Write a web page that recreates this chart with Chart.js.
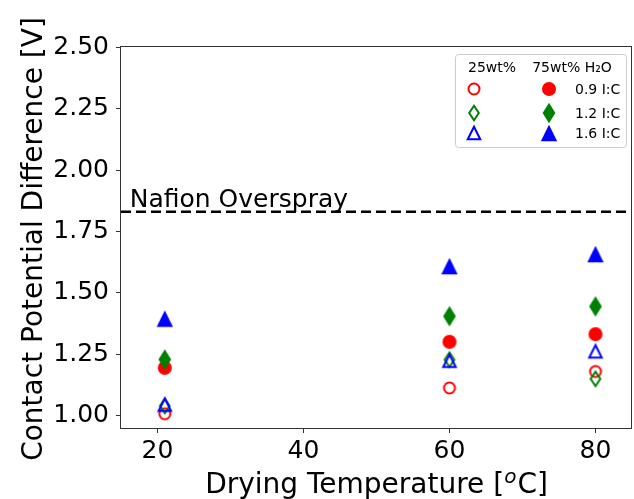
<!DOCTYPE html>
<html>
<head>
<meta charset="utf-8">
<script src="https://cdn.jsdelivr.net/npm/chart.js@4.4.1/dist/chart.umd.min.js"></script>
<style>
  html, body { margin: 0; padding: 0; background: #fff; }
  canvas { display: block; }
</style>
</head>
<body>
<canvas id="chart" width="634" height="499"></canvas>
<script>
// --- data ---
const temps = [21, 60, 80];

const open09 = [1.008, 1.113, 1.180];   // 25wt%, 0.9 I:C
const fill09 = [1.195, 1.301, 1.332];   // 75wt% H2O, 0.9 I:C
const open12 = [1.040, 1.228, 1.150];
const fill12 = [1.229, 1.405, 1.445];
const open16 = [1.045, 1.224, 1.262];
const fill16 = [1.395, 1.609, 1.658];

const oversprayLevel = 1.83;
const oversprayLabel = 'Nafion Overspray';
const oversprayLabelAt = [16.2, 1.851];

const xTicks = [20, 40, 60, 80];
const yTicks = [1.00, 1.25, 1.50, 1.75, 2.00, 2.25, 2.50];
const xRange = [15, 85];
const yRange = [0.95, 2.505];

const groupNames = ['25wt%', '75wt% H\u2082O'];
const ratioNames = ['0.9 I:C', '1.2 I:C', '1.6 I:C'];

const RED = '#ff0000', GREEN = '#008000', BLUE = '#0000ff';
const FONT = '"DejaVu Sans", sans-serif';

// --- matplotlib-like markers drawn on small canvases ---
function marker(shape, color, filled) {
    const c = document.createElement('canvas');
    c.width = 26; c.height = 26;
    const g = c.getContext('2d');
    g.translate(13, 13);
    g.beginPath();
    if (shape === 'circle') {
        g.arc(0, 0, filled ? 7 : 5.5, 0, Math.PI * 2);
    } else if (shape === 'diamond') {
        const h = filled ? 10.2 : 7.2, w = filled ? 6.4 : 4.8;
        g.moveTo(0, -h); g.lineTo(w, 0); g.lineTo(0, h); g.lineTo(-w, 0);
        g.closePath();
    } else {
        const s = filled ? 8.2 : 6.25;
        g.moveTo(0, -s); g.lineTo(s, s); g.lineTo(-s, s);
        g.closePath();
    }
    if (filled) {
        g.fillStyle = color;
        g.fill();
    } else {
        g.strokeStyle = color;
        g.lineWidth = 2;
        g.lineJoin = 'miter';
        g.stroke();
    }
    return c;
}

const markers = {
    open: [marker('circle', RED, false), marker('diamond', GREEN, false), marker('triangle', BLUE, false)],
    fill: [marker('circle', RED, true), marker('diamond', GREEN, true), marker('triangle', BLUE, true)]
};

function pts(ys) {
    return ys.map((y, i) => ({ x: temps[i], y: y }));
}

function pointSet(label, ys, style) {
    return {
        type: 'scatter',
        label: label,
        data: pts(ys),
        pointStyle: style,
        pointRadius: 8,
        showLine: false
    };
}

// first dataset is painted last (on top) in Chart.js
const datasets = [
    pointSet('75wt% 1.6', fill16, markers.fill[2]),
    pointSet('25wt% 1.6', open16, markers.open[2]),
    pointSet('75wt% 1.2', fill12, markers.fill[1]),
    pointSet('25wt% 1.2', open12, markers.open[1]),
    pointSet('75wt% 0.9', fill09, markers.fill[0]),
    pointSet('25wt% 0.9', open09, markers.open[0]),
    {
        type: 'line',
        label: oversprayLabel,
        data: xRange.map(x => ({ x: x, y: oversprayLevel })),
        borderColor: '#000',
        borderWidth: 2.5,
        borderDash: [10, 5],
        pointRadius: 0,
        fill: false
    }
];

// --- frame, titles, text label and legend ---
const decorations = {
    id: 'decorations',
    afterDraw(chart) {
        const ctx = chart.ctx;
        const a = chart.chartArea;
        const xs = chart.scales.x, ys = chart.scales.y;
        ctx.save();

        // axes box
        ctx.strokeStyle = '#333';
        ctx.lineWidth = 1;
        ctx.strokeRect(Math.round(a.left) - 0.5, Math.round(a.top) + 0.5,
            Math.round(a.right - a.left), Math.round(a.bottom - a.top));

        ctx.fillStyle = '#000';

        // overspray label
        ctx.font = '25px ' + FONT;
        ctx.textAlign = 'left';
        ctx.textBaseline = 'alphabetic';
        ctx.fillText(oversprayLabel, xs.getPixelForValue(oversprayLabelAt[0]), ys.getPixelForValue(oversprayLabelAt[1]));

        // y title (allowed to run past the canvas, like the original)
        ctx.save();
        ctx.translate(41.5, (a.top + a.bottom) / 2 + 2);
        ctx.rotate(-Math.PI / 2);
        ctx.font = '28px ' + FONT;
        ctx.textAlign = 'center';
        ctx.fillText('Contact Potential Difference [V]', 0, 0);
        ctx.restore();

        // x title with superscript o
        const p1 = 'Drying Temperature [', p3 = 'C]';
        ctx.font = '28px ' + FONT;
        const w1 = ctx.measureText(p1).width, w3 = ctx.measureText(p3).width;
        ctx.font = 'italic 20px ' + FONT;
        const w2 = ctx.measureText('o').width + 1;
        let x = (a.left + a.right) / 2 - (w1 + w2 + w3) / 2;
        const base = 493;
        ctx.textAlign = 'left';
        ctx.font = '28px ' + FONT;
        ctx.fillText(p1, x, base);
        ctx.font = 'italic 20px ' + FONT;
        ctx.fillText('o', x + w1, base - 10);
        ctx.font = '28px ' + FONT;
        ctx.fillText(p3, x + w1 + w2, base);

        // legend
        const bx = a.right - 177, by = a.top + 8, bw = 171, bh = 93;
        ctx.beginPath();
        ctx.roundRect(bx + 0.5, by + 0.5, bw, bh, 3);
        ctx.fillStyle = 'rgba(255,255,255,0.8)';
        ctx.fill();
        ctx.strokeStyle = '#cccccc';
        ctx.lineWidth = 1;
        ctx.stroke();

        ctx.fillStyle = '#000';
        ctx.font = '14px ' + FONT;
        ctx.textBaseline = 'middle';
        ctx.textAlign = 'center';
        ctx.fillText(groupNames[0], bx + 37, by + 14);
        ctx.fillText(groupNames[1], bx + 117, by + 14);

        const rowY = [35, 59, 79];
        ctx.textAlign = 'left';
        ratioNames.forEach((name, i) => {
            const y = by + rowY[i];
            const mo = markers.open[i], mf = markers.fill[i];
            ctx.drawImage(mo, bx + 19 - mo.width / 2, y - mo.height / 2);
            ctx.drawImage(mf, bx + 94 - mf.width / 2, y - mf.height / 2);
            ctx.fillText(name, bx + 120, y + 1);
        });

        ctx.restore();
    }
};

const tickFont = { family: FONT, size: 25 };

new Chart(document.getElementById('chart').getContext('2d'), {
    data: { datasets: datasets },
    options: {
        responsive: false,
        animation: false,
        layout: { autoPadding: false, padding: { top: 46, right: 2, left: 0, bottom: 0 } },
        plugins: {
            legend: { display: false },
            tooltip: { enabled: false }
        },
        scales: {
            x: {
                type: 'linear',
                min: xRange[0],
                max: xRange[1],
                afterBuildTicks: s => { s.ticks = xTicks.map(v => ({ value: v })); },
                afterFit: s => { s.height = 71; s.paddingLeft = 0; s.paddingRight = 0; },
                ticks: { font: tickFont, color: '#000', padding: 3, maxRotation: 0 },
                grid: { drawOnChartArea: false, drawTicks: true, tickLength: 5, color: '#333' },
                border: { display: false }
            },
            y: {
                type: 'linear',
                min: yRange[0],
                max: yRange[1],
                afterBuildTicks: s => { s.ticks = yTicks.map(v => ({ value: v })); },
                afterFit: s => { s.width = 121; s.paddingTop = 0; s.paddingBottom = 0; },
                ticks: { font: tickFont, color: '#000', padding: 7, callback: v => v.toFixed(2) },
                grid: { drawOnChartArea: false, drawTicks: true, tickLength: 5, color: '#333' },
                border: { display: false }
            }
        }
    },
    plugins: [decorations]
});
</script>
</body>
</html>
